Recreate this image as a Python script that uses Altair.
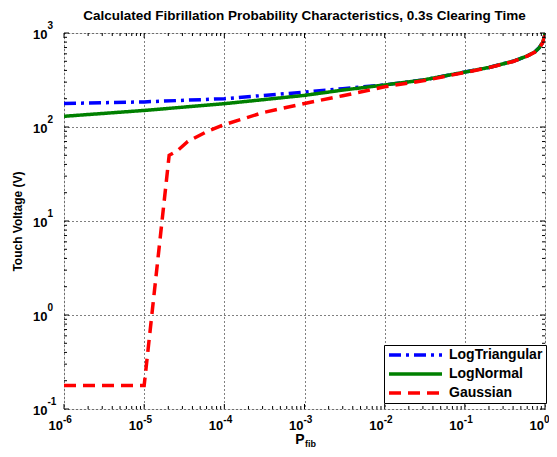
import math
import altair as alt
import pandas as pd

# ---- data ----
series_names = ["LogTriangular", "LogNormal", "Gaussian"]
series_colors = ["#0000FF", "#008000", "#FF0000"]

tri_p = [1e-6, 1e-5, 1e-4, 1e-3, 3e-3, 1e-2, 3e-2, 0.1, 0.2, 0.4, 0.6, 0.75, 0.85, 0.93, 0.98, 1.0]
tri_v = [178, 185, 200, 235, 256, 281, 316, 384, 430, 500, 570, 630, 700, 790, 900, 1000]

norm_p = [1e-6, 1e-5, 1e-4, 1e-3, 3e-3, 1e-2, 3e-2, 0.1, 0.2, 0.4, 0.6, 0.75, 0.85, 0.93, 0.98, 1.0]
norm_v = [130, 150, 177, 217, 247, 280, 316, 384, 430, 500, 570, 630, 700, 790, 900, 1000]

gauss_p = [1e-6, 1e-5, 2.05e-5, 2.6e-5, 3.5e-5, 6e-5, 1e-4, 3e-4, 1e-3, 3e-3, 1e-2, 3e-2, 0.1, 0.2, 0.4, 0.6, 0.75, 0.85, 0.93, 0.98, 1.0]
gauss_v = [0.178, 0.178, 50, 56, 70, 89, 106, 142, 178, 215, 268, 310, 380, 428, 498, 568, 628, 695, 780, 880, 960]

x_ticks = [1e-6, 1e-5, 1e-4, 1e-3, 1e-2, 1e-1, 1.0]
x_exps = ["-6", "-5", "-4", "-3", "-2", "-1", "0"]
y_ticks = [0.1, 1.0, 10.0, 100.0, 1000.0]
y_exps = ["-1", "0", "1", "2", "3"]
tick_base = "10"

title_text = "Calculated Fibrillation Probability Characteristics, 0.3s Clearing Time"
x_title = "P"
x_sub = "fib"
y_title = "Touch Voltage (V)"

W, H = 481, 376
FONT = "Liberation Sans"

rows = []
for name, ps, vs in [("LogTriangular", tri_p, tri_v), ("LogNormal", norm_p, norm_v), ("Gaussian", gauss_p, gauss_v)]:
    for i, (p, v) in enumerate(zip(ps, vs)):
        rows.append({"series": name, "p": p, "v": v, "order": i})
df = pd.DataFrame(rows)

xscale = alt.Scale(type="log", domain=[1e-6, 1.0], nice=False)
yscale = alt.Scale(type="log", domain=[0.1, 1000.0], nice=False)

legend = alt.Legend(title=None, orient="none", legendX=320, legendY=312,
                    strokeColor="black", fillColor="white", padding=3,
                    symbolType="stroke", symbolSize=2809, symbolStrokeWidth=3.5,
                    labelFont=FONT, labelFontSize=14, labelFontWeight="bold",
                    labelColor="black", labelOffset=5, clipHeight=14, rowPadding=5)

lines = alt.Chart(df).mark_line(strokeWidth=3.5, clip=True).encode(
    x=alt.X("p:Q", scale=xscale,
            axis=alt.Axis(values=x_ticks, labelExpr=f"'{tick_base}'", title=None,
                          ticks=False, domain=False, grid=True, gridColor="black", gridDash=[1, 3],
                          gridOpacity=1, gridWidth=1, labelFont=FONT, labelFontSize=13,
                          labelFontWeight="bold", labelColor="black", labelPadding=20,
                          labelAlign="right", labelOffset=-1.5, labelBaseline="alphabetic",
                          labelFlush=False, labelOverlap=False)),
    y=alt.Y("v:Q", scale=yscale,
            axis=alt.Axis(values=y_ticks, labelExpr=f"'{tick_base}'", title=y_title,
                          ticks=False, domain=False, grid=True, gridColor="black", gridDash=[1, 3],
                          gridOpacity=1, gridWidth=1, labelFont=FONT, labelFontSize=13,
                          labelFontWeight="bold", labelColor="black", labelPadding=17,
                          labelBaseline="middle", labelOffset=1,
                          titleFont=FONT, titleFontSize=12, titleFontWeight="bold", titleColor="black",
                          titlePadding=8, labelFlush=False, labelOverlap=False)),
    color=alt.Color("series:N", scale=alt.Scale(domain=series_names, range=series_colors), legend=legend),
    strokeDash=alt.StrokeDash("series:N", scale=alt.Scale(domain=series_names,
                                                          range=[[12, 5, 3, 5], [1, 0], [12, 7]]),
                              legend=legend),
    order="order:Q",
)

# exponents of the tick labels (superscripts)
x_exp_layer = alt.Chart(pd.DataFrame({"p": x_ticks, "e": x_exps})).mark_text(
    font=FONT, fontSize=10, fontWeight="bold", align="left", baseline="alphabetic", color="black", dx=-1
).encode(x=alt.X("p:Q", scale=xscale), y=alt.value(H + 14), text="e:N")

y_exp_layer = alt.Chart(pd.DataFrame({"v": y_ticks, "e": y_exps})).mark_text(
    font=FONT, fontSize=10, fontWeight="bold", align="left", baseline="alphabetic", color="black", dy=-4
).encode(y=alt.Y("v:Q", scale=yscale), x=alt.value(-16.5), text="e:N")

# inside tick marks (minor and major) on all four sides
minor_x = pd.DataFrame({"p": [k * 10.0 ** e for e in range(-6, 0) for k in range(2, 10)]})
major_x = pd.DataFrame({"p": x_ticks})
minor_y = pd.DataFrame({"v": [k * 10.0 ** e for e in range(-1, 3) for k in range(2, 10)]})
major_y = pd.DataFrame({"v": y_ticks})

tick_layers = []
for d, ln in [(minor_x, 3), (major_x, 5)]:
    tick_layers.append(alt.Chart(d).mark_rule(color="black", strokeWidth=1).encode(
        x=alt.X("p:Q", scale=xscale), y=alt.value(H), y2=alt.value(H - ln)))
    tick_layers.append(alt.Chart(d).mark_rule(color="black", strokeWidth=1).encode(
        x=alt.X("p:Q", scale=xscale), y=alt.value(0), y2=alt.value(ln)))
for d, ln in [(minor_y, 3), (major_y, 5)]:
    tick_layers.append(alt.Chart(d).mark_rule(color="black", strokeWidth=1).encode(
        y=alt.Y("v:Q", scale=yscale), x=alt.value(0), x2=alt.value(ln)))
    tick_layers.append(alt.Chart(d).mark_rule(color="black", strokeWidth=1).encode(
        y=alt.Y("v:Q", scale=yscale), x=alt.value(W), x2=alt.value(W - ln)))

xt = alt.Chart(pd.DataFrame({"s": [x_title]})).mark_text(
    font=FONT, fontSize=14, fontWeight="bold", align="right", baseline="alphabetic", color="black"
).encode(text="s:N", x=alt.value(W / 2), y=alt.value(H + 35))

sub = alt.Chart(pd.DataFrame({"s": [x_sub]})).mark_text(
    font=FONT, fontSize=9, fontWeight="bold", align="left", baseline="alphabetic", color="black"
).encode(text="s:N", x=alt.value(W / 2 + 0.5), y=alt.value(H + 38))

chart = alt.layer(lines, *tick_layers, x_exp_layer, y_exp_layer, xt, sub).properties(
    width=W, height=H,
    title=alt.TitleParams(title_text, font=FONT, fontSize=13.5, fontWeight="bold", color="black",
                          anchor="middle", frame="group", dy=5),
    autosize=alt.AutoSizeParams(type="none"),
    padding={"left": 56, "top": 25, "right": 4, "bottom": 40},
).configure_view(stroke="black", strokeWidth=1).configure(background="white")

chart.save("out.html", embed_options={"renderer": "svg", "actions": False})
